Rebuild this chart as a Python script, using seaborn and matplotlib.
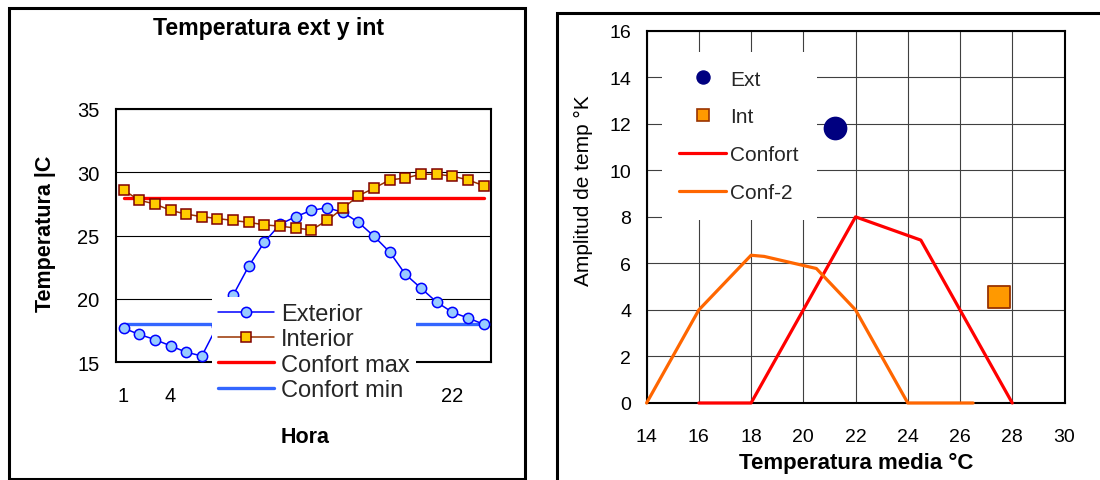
import matplotlib
matplotlib.use("Agg")
import matplotlib.pyplot as plt
from matplotlib.lines import Line2D
from matplotlib.patches import Rectangle
import seaborn as sns

# ---- data: hourly temperatures ----
hours = list(range(1, 25))
exterior = [17.7, 17.2, 16.8, 16.3, 15.8, 15.5, 17.9, 20.3, 22.6, 24.5, 25.9, 26.5,
            27.0, 27.2, 26.85, 26.05, 24.95, 23.7, 21.95, 20.85, 19.75, 18.95, 18.5, 18.0]
interior = [28.6, 27.8, 27.5, 27.0, 26.7, 26.5, 26.35, 26.2, 26.05, 25.85, 25.75, 25.6,
            25.45, 26.2, 27.15, 28.15, 28.75, 29.4, 29.55, 29.85, 29.85, 29.7, 29.4, 28.95]
confort_max = [28.0] * 24
confort_min = [18.0] * 24
hour_ticks = [1, 4, 22]
temp_ticks = [15, 20, 25, 30, 35]

# ---- data: amplitude vs mean temperature ----
confort_x = [16, 18, 20, 22, 24.5, 26, 28]
confort_y = [0, 0, 4, 8, 7, 4, 0]
conf2_x = [14, 16, 18, 18.5, 20.5, 22, 24, 26.5]
conf2_y = [0, 4, 6.35, 6.3, 5.78, 4, 0, 0]
ext_mean, ext_amp = [21.2], [11.8]
int_mean, int_amp = [27.5], [4.55]
mean_ticks = list(range(14, 31, 2))
amp_ticks = list(range(0, 17, 2))

sns.set_theme(style="white")
plt.rcParams["font.family"] = ["Liberation Sans", "DejaVu Sans"]

W, H = 1100, 481
fig = plt.figure(figsize=(11, 4.81), dpi=100)
fig.patch.set_facecolor("white")


def px_rect(x0, y0, x1, y1):
    return [x0 / W, 1 - y1 / H, (x1 - x0) / W, (y1 - y0) / H]


# panel borders
fig.add_artist(Rectangle((8.5 / W, 1 - 479.5 / H), 516 / W, 471 / H,
                         transform=fig.transFigure, fill=False, ec="black", lw=2.2))
fig.add_artist(Rectangle((556.5 / W, -0.05), 0.6, 1.05 - 13.5 / H,
                         transform=fig.transFigure, fill=False, ec="black", lw=2.2,
                         clip_on=False))

# ================= left: temperature by hour =================
ax1 = fig.add_axes(px_rect(115.7, 110, 491.5, 363.3))
ax1.set_facecolor("white")

sns.lineplot(x=hours, y=confort_max, ax=ax1, color="#ff0000", lw=2.4, zorder=2)
sns.lineplot(x=hours, y=confort_min, ax=ax1, color="#3366ff", lw=2.4, zorder=2)
sns.lineplot(x=hours, y=exterior, ax=ax1, color="#0000ff", lw=1.1, marker="o",
             markersize=7.4, markerfacecolor="#99ccff", markeredgecolor="#0000ff",
             markeredgewidth=1.1, zorder=3)
sns.lineplot(x=hours, y=interior, ax=ax1, color="#993300", lw=1.1, marker="s",
             markersize=7.0, markerfacecolor="#ffcc00", markeredgecolor="#800000",
             markeredgewidth=1.1, zorder=4)
l_max, l_min, l_ext, l_int = ax1.lines[:4]

ax1.set_xlim(0.5, 24.5)
ax1.set_ylim(15, 35)
ax1.set_xticks(hour_ticks)
ax1.set_yticks(temp_ticks)
ax1.yaxis.grid(True, color="black", lw=0.8)
ax1.xaxis.grid(False)
ax1.set_axisbelow(True)
ax1.tick_params(axis="both", length=0, labelsize=14.5, colors="black")
ax1.tick_params(axis="x", pad=17)
ax1.tick_params(axis="y", pad=11.5)
for sp in ax1.spines.values():
    sp.set_color("black")
    sp.set_linewidth(1.5)

ax1.set_title("Temperatura ext y int", x=(268.3 - 115.7) / 375.8,
              y=(363.3 - 28) / 253.3, pad=0, va="center", fontsize=16.7,
              fontweight="bold", color="black")
ax1.set_xlabel("Hora", fontsize=15.5, fontweight="bold", color="black")
ax1.xaxis.set_label_coords((305.5 - 115.7) / 375.8, (363.3 - 437.7) / 253.3)
ax1.xaxis.label.set_va("center")
ax1.set_ylabel("Temperatura |C", fontsize=15.5, fontweight="bold", color="black")
ax1.yaxis.set_label_coords((45 - 115.7) / 375.8, (363.3 - 233.8) / 253.3)
ax1.yaxis.label.set_va("center")
ax1.yaxis.label.set_ha("center")

leg1 = ax1.legend([l_ext, l_int, l_max, l_min],
                  ["Exterior", "Interior", "Confort max", "Confort min"],
                  loc="upper left", bbox_to_anchor=(212 / W, 1 - 298 / H),
                  bbox_transform=fig.transFigure, borderaxespad=0,
                  frameon=True, fancybox=False, facecolor="white", edgecolor="white",
                  framealpha=1, fontsize=17, handlelength=2.37, handletextpad=0.3,
                  labelspacing=0.14, borderpad=0.25)
leg1.get_frame().set_linewidth(0)
leg1.set_zorder(6)

# ================= right: amplitude vs mean temperature =================
ax2 = fig.add_axes(px_rect(646.6, 31.7, 1064.5, 404))
ax2.set_facecolor("white")

sns.lineplot(x=confort_x, y=confort_y, ax=ax2, color="#ff0000", lw=2.3,
             clip_on=False, zorder=3)
sns.lineplot(x=conf2_x, y=conf2_y, ax=ax2, color="#ff6600", lw=2.3,
             clip_on=False, zorder=3)
sns.scatterplot(x=ext_mean, y=ext_amp, ax=ax2, s=250, marker="o", color="#000080",
                edgecolor="#000080", zorder=4)
sns.scatterplot(x=int_mean, y=int_amp, ax=ax2, s=240, marker="s", color="#ff9900",
                edgecolor="#993300", linewidth=1.3, zorder=4)

ax2.set_xlim(14, 30)
ax2.set_ylim(0, 16)
ax2.set_xticks(mean_ticks)
ax2.set_yticks(amp_ticks)
ax2.grid(True, color="#404040", lw=0.8)
ax2.set_axisbelow(True)
ax2.tick_params(axis="both", length=0, labelsize=14, colors="black")
ax2.tick_params(axis="x", pad=18)
ax2.tick_params(axis="y", pad=11)
for sp in ax2.spines.values():
    sp.set_color("black")
    sp.set_linewidth(1.5)

ax2.set_xlabel("Temperatura media °C", fontsize=16, fontweight="bold", color="black")
ax2.xaxis.set_label_coords((856 - 646.6) / 417.9, (404 - 463) / 372.3)
ax2.xaxis.label.set_va("center")
ax2.set_ylabel("Amplitud de temp °K", fontsize=15, color="black")
ax2.yaxis.set_label_coords((583.5 - 646.6) / 417.9, (404 - 190.7) / 372.3)
ax2.yaxis.label.set_va("center")
ax2.yaxis.label.set_ha("center")

h_ext = Line2D([], [], ls="none", marker="o", markersize=9.4,
               markerfacecolor="#000080", markeredgecolor="#000080")
h_int = Line2D([], [], ls="none", marker="s", markersize=8.6,
               markerfacecolor="#ff9900", markeredgecolor="#993300", markeredgewidth=1.2)
h_conf = Line2D([], [], color="#ff0000", lw=2.3)
h_conf2 = Line2D([], [], color="#ff6600", lw=2.3)
leg2 = ax2.legend([h_ext, h_int, h_conf, h_conf2], ["Ext", "Int", "Confort", "Conf-2"],
                  loc="upper left", bbox_to_anchor=(661.7 / W, 1 - 53 / H),
                  bbox_transform=fig.transFigure, borderaxespad=0,
                  frameon=True, fancybox=False, facecolor="white", edgecolor="white",
                  framealpha=1, fontsize=15, handlelength=2.25, handletextpad=0.2,
                  labelspacing=0.9, borderpad=0.85)
leg2.get_frame().set_linewidth(0)
leg2.set_zorder(6)

fig.savefig("out.png", dpi=100, facecolor="white")
